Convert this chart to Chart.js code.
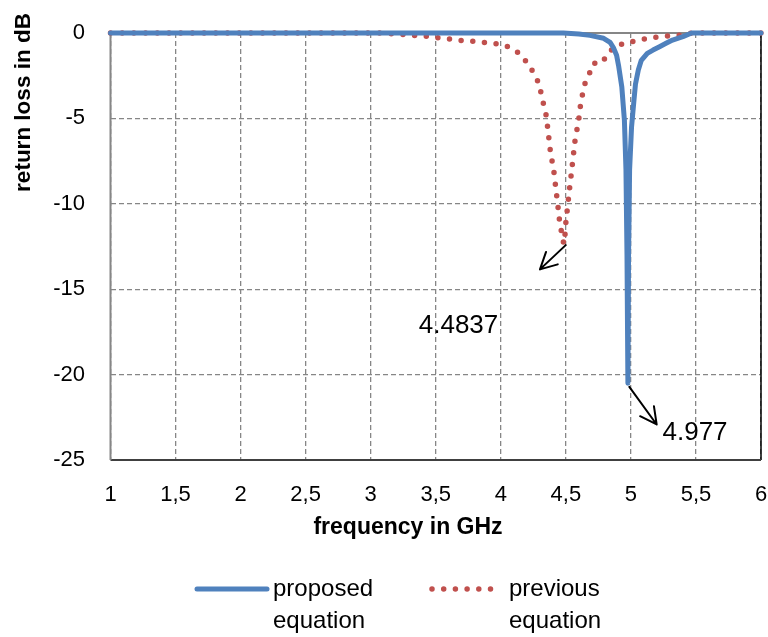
<!DOCTYPE html>
<html>
<head>
<meta charset="utf-8">
<script src="https://cdn.jsdelivr.net/npm/chart.js@4.4.1/dist/chart.umd.min.js"></script>
<style>
  html, body { margin: 0; padding: 0; background: #fff; }
  #wrap { width: 768px; height: 637px; }
</style>
</head>
<body>
<div id="wrap"><canvas id="chart" width="768" height="637"></canvas></div>
<script>
// ===== dados =====
const freqProposed = [1, 4.48, 4.60, 4.685, 4.79, 4.84, 4.865, 4.89, 4.905, 4.93, 4.95, 4.962, 4.97, 4.977,
  4.982, 4.99, 5.005, 5.024, 5.035, 5.057, 5.08, 5.126, 5.17, 5.22, 5.27, 5.32, 5.40, 5.467, 6];
const lossProposed = [0, 0, -0.06, -0.14, -0.31, -0.55, -0.85, -1.3, -1.9, -3.15, -5.1, -8, -13, -20.5,
  -13, -8, -5.5, -3.9, -3.0, -2.17, -1.6, -1.19, -1.0, -0.8, -0.6, -0.41, -0.21, 0, 0];

const freqPrevious = [1, 3.07, 3.20, 3.36, 3.45, 3.54, 3.71, 3.81, 3.89, 3.98, 4.07, 4.15, 4.20, 4.25, 4.29,
  4.31, 4.33, 4.35, 4.36, 4.37, 4.38, 4.395, 4.41, 4.42, 4.43, 4.44, 4.45, 4.465, 4.48, 4.4837,
  4.495, 4.50, 4.51, 4.52, 4.53, 4.54, 4.55, 4.56, 4.57, 4.585, 4.60, 4.61, 4.625, 4.645, 4.68, 4.71,
  4.78, 4.82, 4.87, 4.95, 5.04, 5.12, 5.21, 5.30, 5.39, 5.47, 6];
const lossPrevious = [0, 0, -0.06, -0.16, -0.2, -0.3, -0.45, -0.5, -0.57, -0.64, -0.84, -1.23, -1.72, -2.3, -2.91,
  -3.53, -4.22, -4.86, -5.53, -6.2, -6.86, -7.54, -8.22, -8.9, -9.55, -10.2, -10.9, -11.6, -12.2, -12.35,
  -11.7, -11.1, -10.4, -9.7, -9.0, -8.36, -7.68, -7.0, -6.33, -5.68, -5.02, -4.36, -3.7, -3.0, -2.4, -1.78,
  -1.74, -1.23, -0.84, -0.6, -0.45, -0.33, -0.22, -0.16, -0.12, 0, 0];

const seriesLabels = ['proposed\nequation', 'previous\nequation'];
const xTitle = 'frequency in GHz';
const yTitle = 'return loss in dB';

// setas e rótulos de ressonância (em unidades dos eixos)
const annotationFrom = [[4.499, -12.42], [4.988, -20.72]];
const annotationTo = [[4.301, -13.84], [5.198, -22.92]];
const annotationText = ['4.4837', '4.977'];
const annotationAt = [[3.675, -17.16], [5.493, -23.4]];

// ===== cores =====
const AZUL = '#4F81BD';
const VERMELHO = '#C0504D';
const GRADE = '#868686';
const FONTE = '"Liberation Sans", Arial, sans-serif';

function pontos(xs, ys) {
  return xs.map((x, i) => ({ x: x, y: ys[i] }));
}

// bordas da área de plotagem (eixos estilo Excel)
const bordasPlugin = {
  id: 'bordas',
  beforeDatasetsDraw(chart) {
    const { ctx, chartArea: a } = chart;
    ctx.save();
    ctx.lineWidth = 1.5;
    ctx.strokeStyle = '#000';
    ctx.beginPath();
    ctx.moveTo(a.right, a.top);
    ctx.lineTo(a.right, a.bottom);
    ctx.stroke();
    ctx.strokeStyle = '#404040';
    ctx.lineWidth = 2;
    ctx.beginPath();
    ctx.moveTo(a.left, a.bottom);
    ctx.lineTo(a.right, a.bottom);
    ctx.stroke();
    ctx.strokeStyle = GRADE;
    ctx.beginPath();
    ctx.moveTo(a.left, a.bottom);
    ctx.lineTo(a.left, a.top);
    ctx.lineTo(a.right, a.top);
    ctx.stroke();
    ctx.restore();
  }
};

// setas com rótulo
const anotacoesPlugin = {
  id: 'anotacoes',
  afterDatasetsDraw(chart) {
    const { ctx, scales: { x, y } } = chart;
    ctx.save();
    ctx.strokeStyle = '#000';
    ctx.fillStyle = '#000';
    ctx.lineWidth = 2;
    ctx.lineCap = 'round';
    annotationFrom.forEach((de, i) => {
      const x1 = x.getPixelForValue(de[0]), y1 = y.getPixelForValue(de[1]);
      const x2 = x.getPixelForValue(annotationTo[i][0]), y2 = y.getPixelForValue(annotationTo[i][1]);
      const ang = Math.atan2(y2 - y1, x2 - x1);
      ctx.beginPath();
      ctx.moveTo(x1, y1);
      ctx.lineTo(x2, y2);
      [-0.48, 0.48].forEach(d => {
        ctx.moveTo(x2, y2);
        ctx.lineTo(x2 - 18.5 * Math.cos(ang + d), y2 - 18.5 * Math.sin(ang + d));
      });
      ctx.stroke();
      ctx.font = '26px ' + FONTE;
      ctx.textAlign = 'center';
      ctx.textBaseline = 'middle';
      ctx.fillText(annotationText[i], x.getPixelForValue(annotationAt[i][0]), y.getPixelForValue(annotationAt[i][1]));
    });
    ctx.restore();
  }
};

// títulos dos eixos e legenda em duas linhas
const textosPlugin = {
  id: 'textos',
  afterDraw(chart) {
    const { ctx } = chart;
    ctx.save();
    ctx.fillStyle = '#000';
    ctx.textAlign = 'center';
    ctx.textBaseline = 'middle';
    ctx.font = 'bold 23px ' + FONTE;
    ctx.fillText(xTitle, 408, 528);
    ctx.save();
    ctx.translate(24, 102.5);
    ctx.rotate(-Math.PI / 2);
    ctx.font = 'bold 22.5px ' + FONTE;
    ctx.fillText(yTitle, 0, 0);
    ctx.restore();

    const ds = chart.data.datasets;
    const amostras = [[197, 267, 273], [432, 492, 509]];
    ds.forEach((d, i) => {
      const [xa, xb, xt] = amostras[i];
      ctx.save();
      ctx.strokeStyle = d.borderColor;
      ctx.lineWidth = d.borderWidth;
      ctx.lineCap = 'round';
      ctx.setLineDash(d.borderDash || []);
      ctx.beginPath();
      ctx.moveTo(xa, 589);
      ctx.lineTo(xb, 589);
      ctx.stroke();
      ctx.restore();
      ctx.font = '24px ' + FONTE;
      ctx.textAlign = 'left';
      d.label.split('\n').forEach((linha, j) => ctx.fillText(linha, xt, 589 + j * 32));
    });
    ctx.restore();
  }
};

new Chart(document.getElementById('chart'), {
  type: 'scatter',
  data: {
    datasets: [
      {
        label: seriesLabels[0],
        data: pontos(freqProposed, lossProposed),
        showLine: true,
        borderColor: AZUL,
        backgroundColor: AZUL,
        borderWidth: 5,
        borderJoinStyle: 'round',
        borderCapStyle: 'round',
        pointRadius: 0,
        clip: false,
        order: 1
      },
      {
        label: seriesLabels[1],
        data: pontos(freqPrevious, lossPrevious),
        showLine: true,
        borderColor: VERMELHO,
        backgroundColor: VERMELHO,
        borderWidth: 5.5,
        borderDash: [0, 11.7],
        borderCapStyle: 'round',
        borderJoinStyle: 'round',
        pointRadius: 0,
        clip: false,
        order: 2
      }
    ]
  },
  options: {
    responsive: false,
    animation: false,
    layout: { autoPadding: false, padding: { top: 33, right: 7, left: 0, bottom: 87 } },
    plugins: { legend: { display: false }, tooltip: { enabled: false } },
    scales: {
      x: {
        type: 'linear',
        min: 1,
        max: 6,
        afterFit(scale) { scale.height = 90; },
        ticks: {
          stepSize: 0.5,
          padding: 0,
          color: '#000',
          font: { family: FONTE, size: 22 },
          callback: v => String(v).replace('.', ',')
        },
        // marcas invisíveis: só afastam os rótulos do eixo
        grid: { color: GRADE, lineWidth: 1.3, drawTicks: true, tickLength: 22, tickColor: 'transparent' },
        border: { display: false, dash: [5, 3] }
      },
      y: {
        min: -25,
        max: 0,
        afterFit(scale) { scale.width = 110.5; },
        ticks: {
          stepSize: 5,
          padding: 0,
          color: '#000',
          font: { family: FONTE, size: 22 }
        },
        grid: { color: GRADE, lineWidth: 1.3, drawTicks: true, tickLength: 25.5, tickColor: 'transparent' },
        border: { display: false, dash: [5, 3] }
      }
    }
  },
  plugins: [bordasPlugin, anotacoesPlugin, textosPlugin]
});
</script>
</body>
</html>
